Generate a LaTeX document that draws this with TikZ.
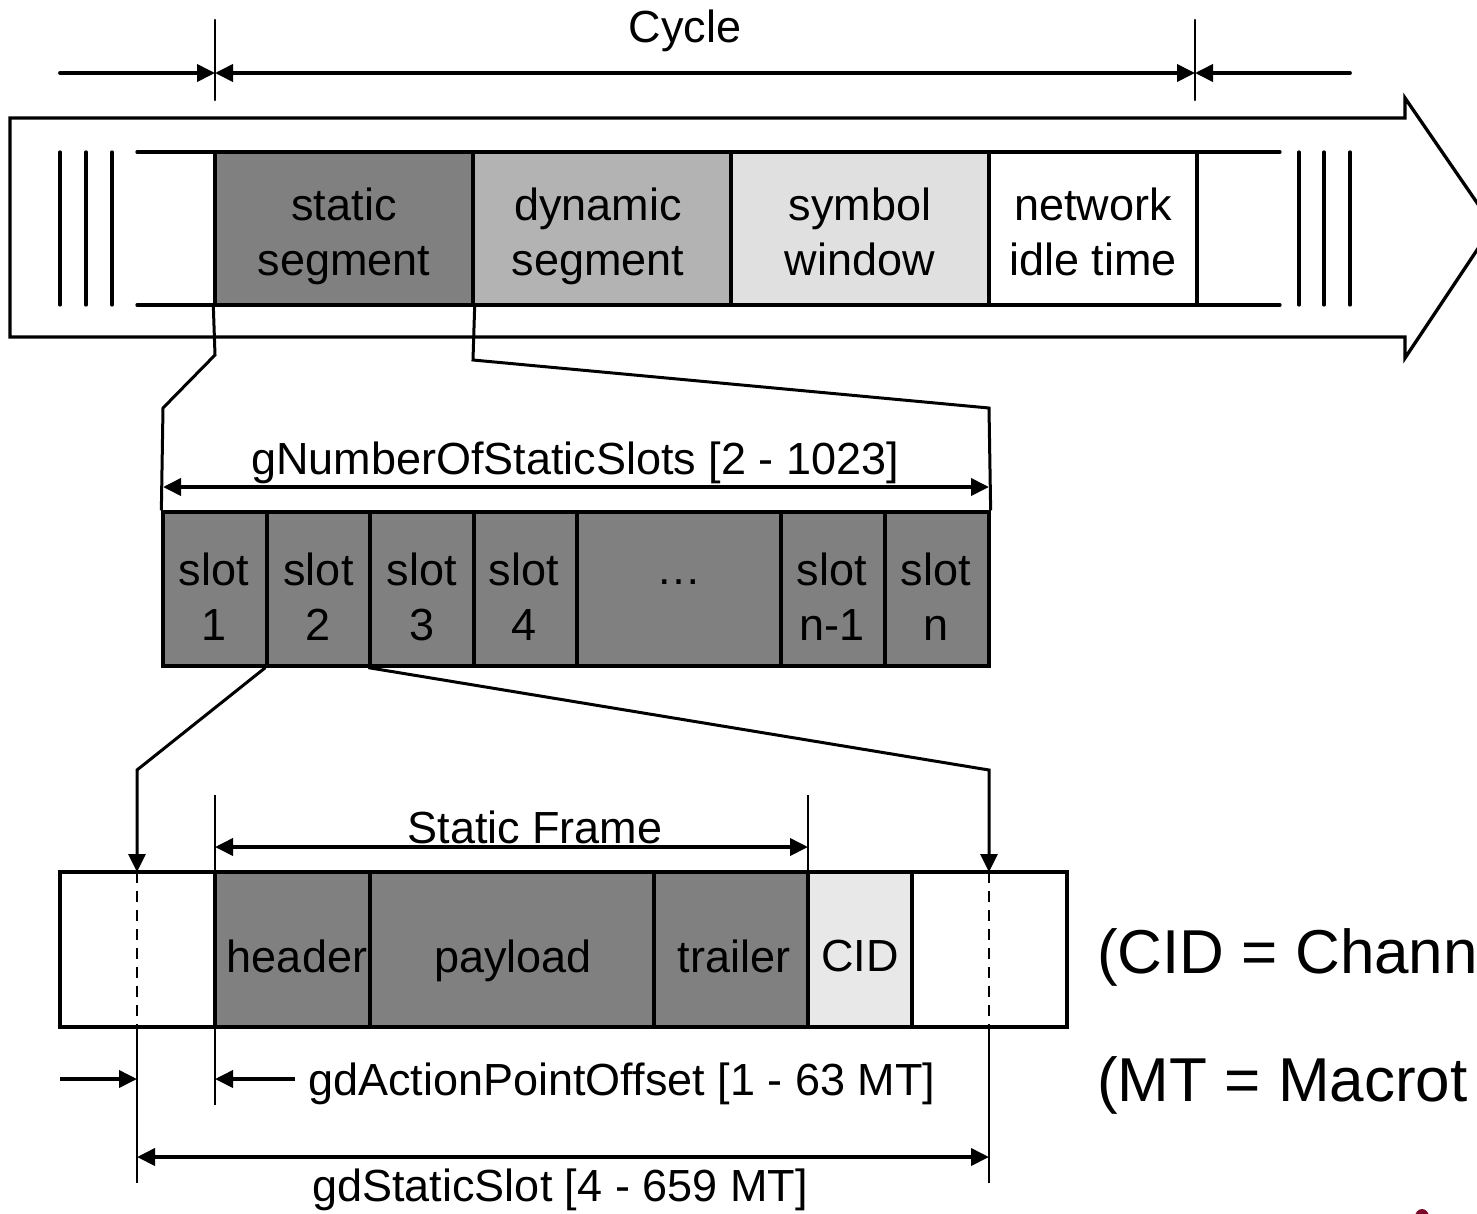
\documentclass[tikz,border=0pt]{standalone}
\usepackage{fontspec}
\setmainfont{Liberation Sans}
\usetikzlibrary{arrows.meta}
\newcommand\lblfont{\fontsize{45}{55}\selectfont}
\newcommand\bigfont{\fontsize{62}{74}\selectfont}
\newcommand\twolines[2]{\vphantom{Ag}#1\\\vphantom{Ag}#2}
\newcommand\oneline[1]{\vphantom{Ag}#1}
\definecolor{segdark}{HTML}{808080}
\definecolor{segmid}{HTML}{B3B3B3}
\definecolor{seglight}{HTML}{E0E0E0}
\definecolor{cidfill}{HTML}{E8E8E8}
\definecolor{logored}{HTML}{7A0A2A}
\begin{document}
\begin{tikzpicture}[x=1pt,y=-1pt,
  heavy/.style={line width=3.3pt},
  conn/.style={line width=3pt, line join=miter},
  tick/.style={line width=2.6pt},
  dimline/.style={line width=3.8pt},
  tip/.tip={Triangle[length=18pt,width=17pt]},
  box/.style={draw, line width=3.3pt, inner sep=0pt},
  lbl/.style={inner sep=0pt, font=\lblfont, align=center},
]
\useasboundingbox (0,0) rectangle (1477,1213);
\clip (0,0) rectangle (1477,1213);

% ---------- top: cycle ----------
\coordinate (tkA1) at (215,20);  \coordinate (tkA2) at (215,100);
\coordinate (tkB1) at (1195,20); \coordinate (tkB2) at (1195,100);
\coordinate (cycL) at (60,73);   \coordinate (cycA) at (215,73);
\coordinate (cycB) at (1195,73); \coordinate (cycR) at (1350,73);
\draw[tick, line cap=round] (tkA1) -- (tkA2);
\draw[tick, line cap=round] (tkB1) -- (tkB2);
\draw[dimline,-tip, line cap=round] (cycL) -- (cycA);
\draw[dimline,tip-tip] (cycA) -- (cycB);
\draw[dimline,-tip, line cap=round] (cycR) -- (cycB);
\node[lbl] (cycle) at (685,31) {Cycle};

% big arrow
\draw[heavy, line join=miter] (10,118) -- (1405,118) -- (1405,98) -- (1493,226)
  -- (1405,358) -- (1405,337) -- (10,337) -- cycle;

% rails
\draw[heavy, line cap=round] (137,152) -- (1280,152);
\draw[heavy, line cap=round] (137,305) -- (1280,305);
\foreach \xx in {60,86,112,1299,1324,1350}
  \draw[heavy, line cap=round] (\xx,152) -- (\xx,305);

% segments
\node[box, fill=segdark,  minimum width=258pt, minimum height=153pt] (sstat) at (344,228.5) {};
\node[box, fill=segmid,   minimum width=258pt, minimum height=153pt] (sdyn)  at (602,228.5) {};
\node[box, fill=seglight, minimum width=258pt, minimum height=153pt] (ssym)  at (860,228.5) {};
\node[box, fill=white,    minimum width=208pt, minimum height=153pt] (sidle) at (1093,228.5) {};
\node[lbl] (tstat) at (344,236.25) {\twolines{static}{segment}};
\node[lbl] (tdyn)  at (598,236.25) {\twolines{dynamic}{segment}};
\node[lbl] (tsym)  at (860,236.25) {\twolines{symbol}{window}};
\node[lbl] (tidle) at (1093,236.25) {\twolines{network}{idle time}};

% ---------- slots ----------
\node[box, fill=segdark, minimum width=104pt, minimum height=154pt] (sl1) at (215,589) {};
\node[box, fill=segdark, minimum width=103pt, minimum height=154pt] (sl2) at (318.5,589) {};
\node[box, fill=segdark, minimum width=104pt, minimum height=154pt] (sl3) at (422,589) {};
\node[box, fill=segdark, minimum width=103pt, minimum height=154pt] (sl4) at (525.5,589) {};
\node[box, fill=segdark, minimum width=204pt, minimum height=154pt] (sldots) at (679,589) {};
\node[box, fill=segdark, minimum width=104pt, minimum height=154pt] (slm) at (833,589) {};
\node[box, fill=segdark, minimum width=104pt, minimum height=154pt] (sln) at (937,589) {};
\node[lbl] (tsl1) at (214,601.25) {\twolines{slot}{1}};
\node[lbl] (tsl2) at (318.5,601.25) {\twolines{slot}{2}};
\node[lbl] (tsl3) at (422,601.25) {\twolines{slot}{3}};
\node[lbl] (tsl4) at (524,601.25) {\twolines{slot}{4}};
\node[lbl] (tsldots) at (679,573.75) {\oneline{\ldots}};
\node[lbl] (tslm) at (832,601.25) {\twolines{slot}{n-1}};
\node[lbl] (tsln) at (936,601.25) {\twolines{slot}{n}};

% zoom connectors top -> slots
\coordinate (zA1) at (215,355); \coordinate (zA2) at (163,408);
\coordinate (zB1) at (473,360); \coordinate (zB2) at (989,408);
\draw[conn] (sstat.south west) -- (zA1) -- (zA2) -- (sl1.north west);
\draw[conn] (sstat.south east) -- (zB1) -- (zB2) -- (sln.north east);

% gNumberOfStaticSlots
\coordinate (gnL) at (163,487); \coordinate (gnR) at (989,487);
\draw[dimline,tip-tip] (gnL) -- (gnR);
\node[lbl] (gnlbl) at (575,463) {gNumberOfStaticSlots [2 - 1023]};

% ---------- frame ----------
\node[box, minimum width=1007pt, minimum height=155pt] (frame) at (563.5,949.5) {};
\node[box, fill=segdark, minimum width=155pt, minimum height=155pt] (fhead) at (292.5,949.5) {};
\node[box, fill=segdark, minimum width=284pt, minimum height=155pt] (fpay)  at (512,949.5) {};
\node[box, fill=segdark, minimum width=154pt, minimum height=155pt] (ftrl)  at (731,949.5) {};
\node[box, fill=cidfill, minimum width=104pt, minimum height=155pt] (fcid)  at (860,949.5) {};
\node[lbl] (thead) at (297,960.75) {\oneline{header}};
\node[lbl] (tpay)  at (513,960.75) {\oneline{payload}};
\node[lbl] (ttrl)  at (734,960.75) {\oneline{trailer}};
\node[lbl] (tcid)  at (860,960.75) {\oneline{CID}};

% slot -> frame connectors
\coordinate (zC1) at (137,770); \coordinate (zC2) at (137,872);
\coordinate (zD1) at (989,770); \coordinate (zD2) at (989,872);
\draw[conn,-tip] (sl2.south west) -- (zC1) -- (zC2);
\draw[conn,-tip] (sl3.south west) -- (zD1) -- (zD2);

% dashed slot boundaries and extension lines
\coordinate (dL1) at (137,1027); \coordinate (dL2) at (137,1183);
\coordinate (dR1) at (989,1027); \coordinate (dR2) at (989,1183);
\draw[line width=2.8pt, dash pattern=on 11pt off 8pt] (zC2) -- (dL1);
\draw[line width=2.8pt, dash pattern=on 11pt off 8pt] (zD2) -- (dR1);
\draw[tick] (dL1) -- (dL2);
\draw[tick] (dR1) -- (dR2);

% static frame ticks
\coordinate (tfA1) at (215,795); \coordinate (tfA2) at (215,1105);
\coordinate (tfB1) at (808,795); \coordinate (tfB2) at (808,872);
\draw[tick] (tfA1) -- (tfA2);
\draw[tick] (tfB1) -- (tfB2);
\coordinate (sfL) at (215,847); \coordinate (sfR) at (808,847);
\draw[dimline,tip-tip] (sfL) -- (sfR);
\node[lbl] (sflbl) at (535,827) {Static Frame};

% gdActionPointOffset
\coordinate (apL0) at (60,1079);  \coordinate (apL1) at (137,1079);
\coordinate (apR0) at (295,1079); \coordinate (apR1) at (215,1079);
\draw[dimline,-tip] (apL0) -- (apL1);
\draw[dimline,-tip] (apR0) -- (apR1);
\node[lbl, anchor=west] (aplbl) at (308,1084) {gdActionPointOffset [1 - 63 MT]};

% gdStaticSlot
\coordinate (ssL) at (137,1157); \coordinate (ssR) at (989,1157);
\draw[dimline,tip-tip] (ssL) -- (ssR);
\node[lbl] (sslbl) at (560,1190) {gdStaticSlot [4 - 659 MT]};

% legend
\node[inner sep=0pt, anchor=base west, font=\bigfont] (leg1) at (1097,973) {(CID = Chann};
\node[inner sep=0pt, anchor=base west, font=\bigfont] (leg2) at (1097,1101) {(MT = Macrot};

% logo fragment
\fill[logored] (1422,1217) ellipse (7pt and 8pt);
\end{tikzpicture}
\end{document}
